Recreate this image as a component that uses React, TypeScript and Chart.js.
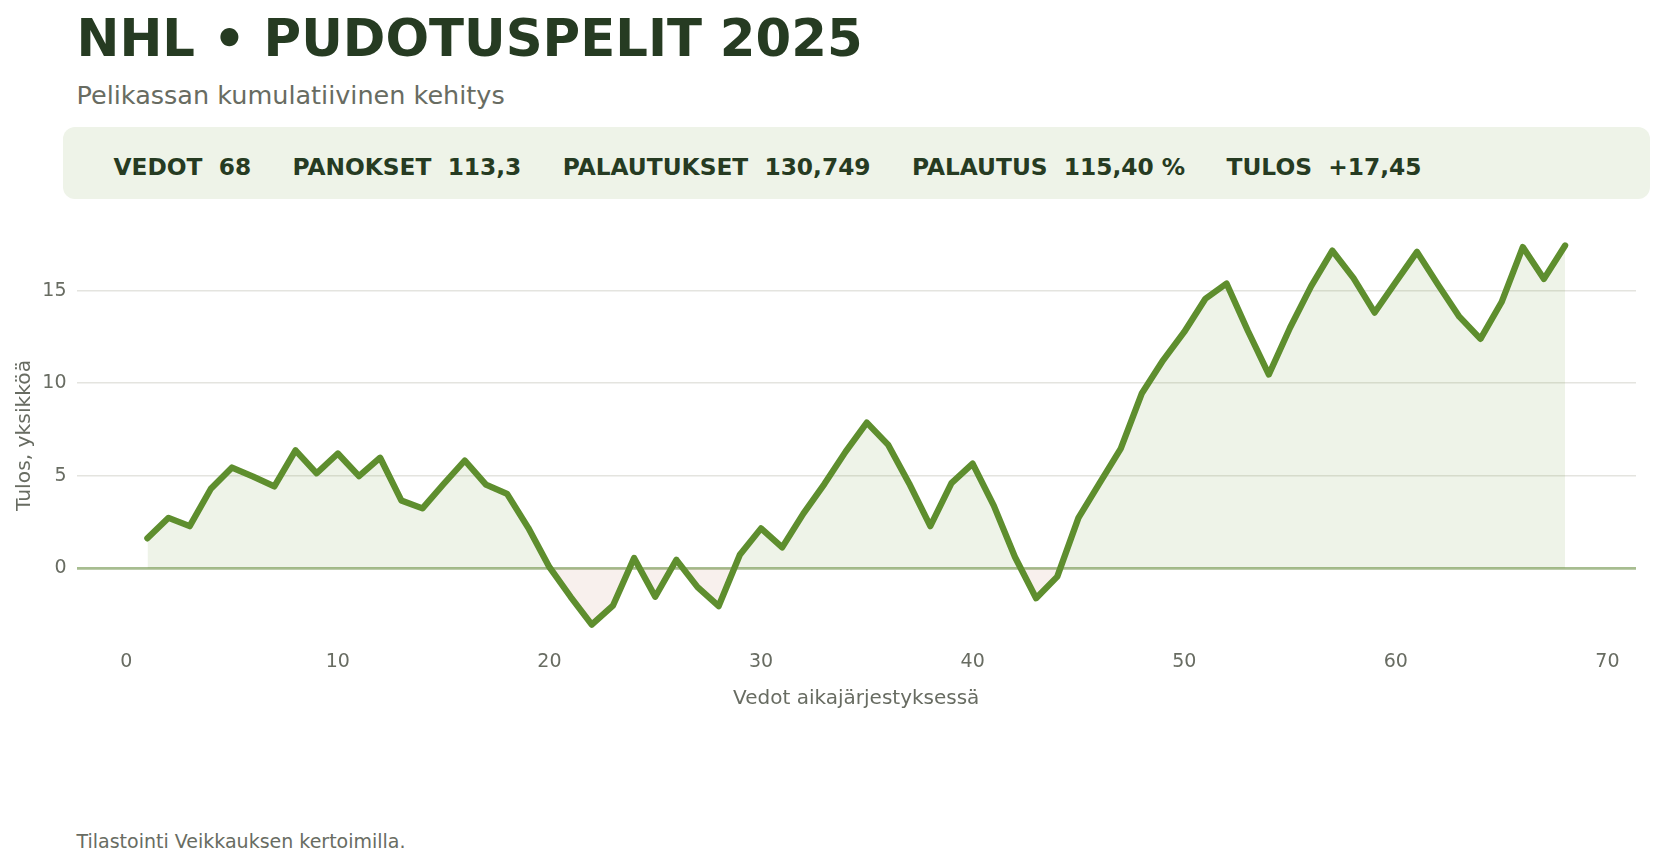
import React, { useEffect, useRef } from 'react'
import { Chart, registerables, ChartConfiguration } from 'chart.js'

Chart.register(...registerables)

const TITLE = 'NHL • PUDOTUSPELIT 2025'
const SUBTITLE = 'Pelikassan kumulatiivinen kehitys'
const FOOTNOTE = 'Tilastointi Veikkauksen kertoimilla.'
const X_TITLE = 'Vedot aikajärjestyksessä'
const Y_TITLE = 'Tulos, yksikköä'

const STAT_LABELS = ['VEDOT', 'PANOKSET', 'PALAUTUKSET', 'PALAUTUS', 'TULOS']
const STAT_VALUES = ['68', '113,3', '130,749', '115,40 %', '+17,45']

// kumulatiivinen tulos vedon jälkeen (vedot 1..68)
const CUMULATIVE = [
    1.61, 2.72, 2.27, 4.29, 5.44, 4.95, 4.42, 6.37, 5.13, 6.2,
    4.97, 5.97, 3.66, 3.23, 4.55, 5.82, 4.52, 4.02, 2.18, 0.05,
    -1.55, -3.06, -2.03, 0.55, -1.55, 0.45, -1.03, -2.05, 0.72, 2.15,
    1.12, 2.95, 4.56, 6.3, 7.87, 6.68, 4.58, 2.27, 4.6, 5.65,
    3.38, 0.6, -1.63, -0.46, 2.72, 4.6, 6.46, 9.46, 11.24, 12.77,
    14.57, 15.39, 12.85, 10.47, 13.0, 15.25, 17.17, 15.68, 13.82, 15.47,
    17.1, 15.32, 13.6, 12.4, 14.39, 17.36, 15.64, 17.45,
]
const BET_NUMBERS = CUMULATIVE.map((_, i) => i + 1)

const X_TICKS = [0, 10, 20, 30, 40, 50, 60, 70]
const Y_TICKS = [0, 5, 10, 15]

const FONT = "'DejaVu Sans', sans-serif"
const DARK = '#263b22'
const GREY = '#686c62'

const ResultChart: React.FC = () => {
    const canvasRef = useRef<HTMLCanvasElement | null>(null)
    const chartRef = useRef<Chart | null>(null)

    useEffect(() => {
        if (!canvasRef.current) return
        Chart.defaults.font.family = FONT

        const points = BET_NUMBERS.map((x, i) => ({ x, y: CUMULATIVE[i] }))

        const config: ChartConfiguration<'line', { x: number; y: number }[]> = {
            type: 'line',
            data: {
                datasets: [
                    {
                        data: points,
                        borderColor: '#5e8e2e',
                        borderWidth: 6.3,
                        borderJoinStyle: 'round',
                        borderCapStyle: 'round',
                        pointRadius: 0,
                        tension: 0,
                        fill: {
                            target: { value: 0 },
                            above: 'rgba(96,150,46,0.11)',
                            below: 'rgba(175,90,60,0.09)',
                        },
                    },
                ],
            },
            options: {
                animation: false,
                responsive: true,
                maintainAspectRatio: false,
                events: [],
                layout: { padding: { top: 19, right: 30, left: 0, bottom: 0 } },
                plugins: {
                    legend: { display: false },
                    tooltip: { enabled: false },
                },
                scales: {
                    x: {
                        type: 'linear',
                        min: -2.35,
                        max: 71.35,
                        afterBuildTicks: (axis) => {
                            axis.ticks = X_TICKS.map((v) => ({ value: v }))
                        },
                        afterFit: (axis) => {
                            axis.height = 75.5
                        },
                        grid: { display: false, drawTicks: false },
                        border: { display: false },
                        ticks: { color: GREY, padding: 6.5, font: { size: 19 } },
                        title: {
                            display: true,
                            text: X_TITLE,
                            color: GREY,
                            font: { size: 20 },
                            padding: { top: 0, bottom: 9 },
                        },
                    },
                    y: {
                        type: 'linear',
                        min: -4.13,
                        max: 18.48,
                        afterBuildTicks: (axis) => {
                            axis.ticks = Y_TICKS.map((v) => ({ value: v }))
                        },
                        afterFit: (axis) => {
                            axis.width = 76.5
                        },
                        grid: {
                            drawTicks: false,
                            color: (ctx) => (ctx.tick && ctx.tick.value === 0 ? '#a7bd90' : '#e4e4df'),
                            lineWidth: (ctx) => (ctx.tick && ctx.tick.value === 0 ? 2.7 : 1.6),
                        },
                        border: { display: false },
                        ticks: { color: GREY, padding: 10, font: { size: 19 } },
                        title: {
                            display: true,
                            text: Y_TITLE,
                            color: GREY,
                            font: { size: 20.3 },
                            padding: { top: 12.8, bottom: 0 },
                        },
                    },
                },
            },
        }

        chartRef.current = new Chart(canvasRef.current, config as ChartConfiguration)

        return () => {
            chartRef.current?.destroy()
        }
    }, [])

    return <canvas ref={canvasRef} />
}

export default function App() {
    return (
        <div
            style={{
                position: 'absolute',
                left: 0,
                top: 0,
                width: 1666,
                height: 867,
                background: '#ffffff',
                fontFamily: FONT,
                overflow: 'hidden',
            }}
        >
            <div
                style={{
                    position: 'absolute',
                    left: 76.5,
                    top: 12.6,
                    fontSize: 51.3,
                    lineHeight: 1,
                    fontWeight: 'bold',
                    color: DARK,
                    whiteSpace: 'pre',
                }}
            >
                {TITLE}
            </div>
            <div
                style={{
                    position: 'absolute',
                    left: 76.5,
                    top: 83,
                    fontSize: 25.5,
                    lineHeight: 1,
                    color: GREY,
                    whiteSpace: 'pre',
                }}
            >
                {SUBTITLE}
            </div>
            <div
                style={{
                    position: 'absolute',
                    left: 63,
                    top: 127,
                    width: 1587,
                    height: 72,
                    borderRadius: 12,
                    background: '#eef3e8',
                }}
            >
                <div
                    style={{
                        position: 'absolute',
                        left: 50.5,
                        top: 27.5,
                        fontSize: 23.3,
                        lineHeight: 1,
                        fontWeight: 'bold',
                        color: DARK,
                        whiteSpace: 'pre',
                        display: 'flex',
                    }}
                >
                    {STAT_LABELS.map((label, i) => (
                        <span key={label} style={{ marginRight: 41.4 }}>
                            {label + '  ' + STAT_VALUES[i]}
                        </span>
                    ))}
                </div>
            </div>
            <div style={{ position: 'absolute', left: 0, top: 205, width: 1666, height: 515 }}>
                <ResultChart />
            </div>
            <div
                style={{
                    position: 'absolute',
                    left: 76.5,
                    top: 832,
                    fontSize: 19,
                    lineHeight: 1,
                    color: GREY,
                    whiteSpace: 'pre',
                }}
            >
                {FOOTNOTE}
            </div>
        </div>
    )
}
